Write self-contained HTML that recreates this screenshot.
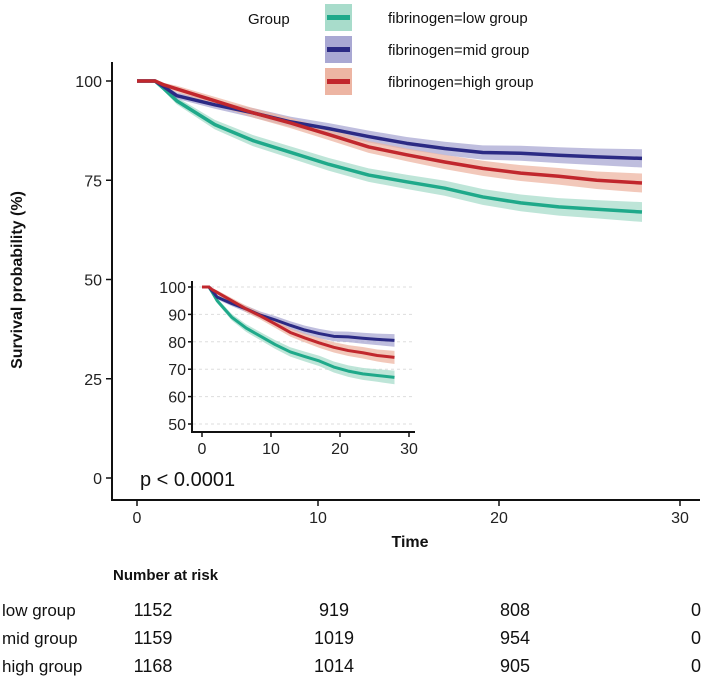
<!DOCTYPE html>
<html><head><meta charset="utf-8"><style>
html,body{margin:0;padding:0;background:#fff;}
svg{display:block;font-family:"Liberation Sans",Arial,sans-serif;}
</style></head><body>
<svg id="chart" width="706" height="684" viewBox="0 0 706 684" xmlns="http://www.w3.org/2000/svg">
<g id="legend">
 <text x="248" y="24" font-size="15" fill="#111">Group</text>
 <g><rect x="325" y="4" width="27" height="27" fill="#a8dccb"/><rect x="327" y="15" width="23" height="5" fill="#1fa98a"/><text x="388" y="23" font-size="15" fill="#111">fibrinogen=low group</text></g>
 <g><rect x="325" y="36" width="27" height="27" fill="#a9a8d3"/><rect x="327" y="47" width="23" height="5" fill="#2b2a84"/><text x="388" y="55" font-size="15" fill="#111">fibrinogen=mid group</text></g>
 <g><rect x="325" y="68" width="27" height="27" fill="#edb5a3"/><rect x="327" y="79" width="23" height="5" fill="#c1272d"/><text x="388" y="87" font-size="15" fill="#111">fibrinogen=high group</text></g>
</g>
<g id="main"></g>
<g id="inset"></g>
<text x="22" y="280" font-size="16" font-weight="bold" fill="#111" text-anchor="middle" transform="rotate(-90 22 280)">Survival probability (%)</text>
<text x="410" y="547" font-size="16" font-weight="bold" fill="#111" text-anchor="middle">Time</text>
<text x="140" y="486" font-size="20" fill="#111">p &lt; 0.0001</text>
<text x="113" y="580" font-size="15" font-weight="bold" fill="#111">Number at risk</text>
<g id="risk"></g>
</svg>
<script>
const times = [0, 1, 1.5, 2.2, 4.3, 6.4, 8.5, 10.6, 12.8, 14.9, 17, 19.1, 21.2, 23.3, 25.4, 27.9];
const lowSurv  = [100, 100, 98, 95, 89, 85, 82, 79, 76.3, 74.6, 73, 70.8, 69.3, 68.3, 67.7, 67];
const midSurv  = [100, 100, 98.5, 96.3, 94, 92, 89.7, 88, 86, 84.3, 83, 82, 81.8, 81.3, 80.9, 80.5];
const highSurv = [100, 100, 99, 98, 95, 92, 89.4, 86.5, 83.4, 81.4, 79.6, 78, 76.8, 76, 75, 74.3];
const lowCI  = [0, 0, 0.6, 0.9, 1.2, 1.4, 1.5, 1.6, 1.7, 1.8, 1.9, 2, 2.1, 2.2, 2.3, 2.5];
const midCI  = [0, 0, 0.5, 0.8, 1, 1.2, 1.3, 1.4, 1.5, 1.6, 1.7, 1.8, 1.9, 2, 2.1, 2.3];
const highCI = [0, 0, 0.5, 0.8, 1, 1.2, 1.3, 1.4, 1.5, 1.6, 1.8, 1.9, 2, 2.1, 2.2, 2.4];
const xTicks = [0, 10, 20, 30];
const mainYTicks = [0, 25, 50, 75, 100];
const insetYTicks = [50, 60, 70, 80, 90, 100];
const riskGroups = ["low group", "mid group", "high group"];
const riskLow  = [1152, 919, 808, 0];
const riskMid  = [1159, 1019, 954, 0];
const riskHigh = [1168, 1014, 905, 0];

const NS = "http://www.w3.org/2000/svg";
function mk(tag, attrs, parent){const e=document.createElementNS(NS,tag);for(const k in attrs)e.setAttribute(k,attrs[k]);parent.appendChild(e);return e;}
const series = [
 {name:"low", s:lowSurv, ci:lowCI, line:"#1fa98a", band:"#a8dccb"},
 {name:"mid", s:midSurv, ci:midCI, line:"#2b2a84", band:"#a9a8d3"},
 {name:"high", s:highSurv, ci:highCI, line:"#c1272d", band:"#edb5a3"}
];
function drawPanel(g, xs, ys, lw, prefix){
 series.forEach(se=>{
  let up=[],lo=[];
  times.forEach((t,i)=>{up.push(xs(t)+","+ys(se.s[i]+se.ci[i]));lo.push(xs(t)+","+ys(se.s[i]-se.ci[i]));});
  const b=mk("polygon",{points:up.concat(lo.reverse()).join(" "),fill:se.band,"fill-opacity":"0.75"},g);
  
  
 });
 series.forEach(se=>{
  const pts=times.map((t,i)=>xs(t)+","+ys(se.s[i])).join(" ");
  const l=mk("polyline",{points:pts,fill:"none",stroke:se.line,"stroke-width":lw,"stroke-linejoin":"round"},g);
  
  
 });
}
// main
const mx=t=>137+18.1*t, my=s=>478-3.97*s;
const main=document.getElementById("main");
mk("line",{x1:112,y1:62,x2:112,y2:500,stroke:"#111","stroke-width":2},main);
mk("line",{x1:111,y1:500,x2:700,y2:500,stroke:"#111","stroke-width":2},main);
mainYTicks.forEach(v=>{
 mk("line",{x1:106,y1:my(v),x2:112,y2:my(v),stroke:"#111","stroke-width":1.5},main);
 const t=mk("text",{x:102,y:my(v)+6,"font-size":16,"text-anchor":"end",fill:"#222"},main);t.textContent=v;
 
 
});
xTicks.forEach(v=>{
 mk("line",{x1:mx(v),y1:500,x2:mx(v),y2:506,stroke:"#111","stroke-width":1.5},main);
 const t=mk("text",{x:mx(v),y:523,"font-size":16,"text-anchor":"middle",fill:"#222"},main);t.textContent=v;
 
 
});
drawPanel(main,mx,my,3.5,"main");
// inset
const ix=t=>202+6.9*t, iy=s=>424-2.74*(s-50);
const inset=document.getElementById("inset");
insetYTicks.forEach(v=>{
 mk("line",{x1:193,y1:iy(v),x2:414,y2:iy(v),stroke:"#ddd","stroke-width":1,"stroke-dasharray":"3,3"},inset);
 mk("line",{x1:188,y1:iy(v),x2:192,y2:iy(v),stroke:"#111","stroke-width":1.5},inset);
 const t=mk("text",{x:186,y:iy(v)+6,"font-size":16,"text-anchor":"end",fill:"#222"},inset);t.textContent=v;
 
 
});
mk("line",{x1:192,y1:281,x2:192,y2:432,stroke:"#111","stroke-width":2},inset);
mk("line",{x1:191,y1:432,x2:415,y2:432,stroke:"#111","stroke-width":2},inset);
xTicks.forEach(v=>{
 mk("line",{x1:ix(v),y1:432,x2:ix(v),y2:437,stroke:"#111","stroke-width":1.5},inset);
 const t=mk("text",{x:ix(v),y:454,"font-size":16,"text-anchor":"middle",fill:"#222"},inset);t.textContent=v;
 
 
});
drawPanel(inset,ix,iy,3,"inset");
// risk table
const risk=document.getElementById("risk");
[riskLow,riskMid,riskHigh].forEach((row,r)=>{
 const y=616+28*r;
 const lab=mk("text",{x:2,y:y,"font-size":17,fill:"#111"},risk);lab.textContent=riskGroups[r];
 
 
 row.forEach((n,i)=>{
  const t=mk("text",{x:mx(xTicks[i])+16,y:y,"font-size":18,"text-anchor":"middle",fill:"#111"},risk);t.textContent=n;
  
  
 });
});
</script>
</body></html>
